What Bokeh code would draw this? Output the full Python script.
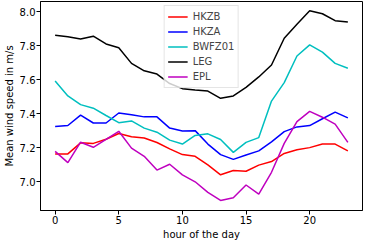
from bokeh.plotting import figure
from bokeh.models import Range1d, Legend, LegendItem, FixedTicker, PrintfTickFormatter
from bokeh.embed import file_html
from bokeh.resources import INLINE

hours = list(range(24))
HKZB = [7.164, 7.164, 7.229, 7.226, 7.250, 7.284, 7.265, 7.258, 7.231, 7.194, 7.160, 7.150,
        7.099, 7.041, 7.066, 7.062, 7.098, 7.119, 7.167, 7.188, 7.201, 7.222, 7.222, 7.182]
HKZA = [7.326, 7.331, 7.392, 7.346, 7.346, 7.405, 7.395, 7.382, 7.382, 7.316, 7.299, 7.301,
        7.222, 7.160, 7.132, 7.158, 7.182, 7.235, 7.295, 7.323, 7.331, 7.371, 7.410, 7.376]
BWFZ01 = [7.593, 7.505, 7.454, 7.433, 7.390, 7.348, 7.358, 7.316, 7.292, 7.245, 7.222, 7.273,
          7.282, 7.249, 7.173, 7.232, 7.260, 7.475, 7.584, 7.740, 7.806, 7.763, 7.697, 7.668]
LEG = [7.862, 7.853, 7.840, 7.857, 7.811, 7.789, 7.697, 7.653, 7.634, 7.578, 7.548, 7.540,
       7.534, 7.491, 7.505, 7.556, 7.617, 7.687, 7.845, 7.927, 8.006, 7.989, 7.948, 7.940]
EPL = [7.179, 7.113, 7.233, 7.203, 7.250, 7.297, 7.198, 7.150, 7.069, 7.103, 7.041, 7.000,
       6.938, 6.890, 6.906, 6.981, 6.928, 7.056, 7.226, 7.354, 7.414, 7.380, 7.339, 7.232]

series_names = ["HKZB", "HKZA", "BWFZ01", "LEG", "EPL"]
series_values = [HKZB, HKZA, BWFZ01, LEG, EPL]
colors = ["#ff0000", "#0000ff", "#00bfbf", "#000000", "#bf00bf"]
x_ticks = [0, 5, 10, 15, 20]
y_ticks = [7.0, 7.2, 7.4, 7.6, 7.8, 8.0]

FONT = "DejaVu Sans"

p = figure(width=366, height=242, output_backend="svg", toolbar_location=None,
           x_range=Range1d(-1.15, 24.15), y_range=Range1d(6.831, 8.061),
           min_border_top=1, min_border_right=4, min_border_left=2, min_border_bottom=2)
p.background_fill_color = "white"
p.border_fill_color = "white"
p.outline_line_color = "black"
p.outline_line_width = 1
p.xgrid.visible = False
p.ygrid.visible = False

items = []
for name, vals, col in zip(series_names, series_values, colors):
    r = p.line(hours, vals, line_color=col, line_width=1.5)
    items.append(LegendItem(label=name, renderers=[r]))

for ax in (p.xaxis[0], p.yaxis[0]):
    ax.major_tick_in = 0
    ax.major_tick_out = 4
    ax.minor_tick_line_color = None
    ax.axis_line_color = "black"
    ax.major_tick_line_color = "black"
    ax.major_label_text_font = FONT
    ax.major_label_text_font_size = "10px"
    ax.major_label_text_color = "black"
    ax.axis_label_text_font = FONT
    ax.axis_label_text_font_size = "10px"
    ax.axis_label_text_font_style = "normal"
    ax.axis_label_text_color = "black"
    ax.major_label_standoff = 1
    ax.axis_label_standoff = 2

p.xaxis.ticker = FixedTicker(ticks=x_ticks)
p.yaxis.ticker = FixedTicker(ticks=y_ticks)
p.yaxis.formatter = PrintfTickFormatter(format="%.1f")
p.xaxis.axis_label = "hour of the day"
p.yaxis.axis_label = "Mean wind speed in m/s"

legend = Legend(items=items, location="top_center")
legend.label_text_font = FONT
legend.label_text_font_size = "10px"
legend.label_height = 15
legend.glyph_height = 15
legend.glyph_width = 20
legend.spacing = 0
legend.padding = 3
legend.margin = 4
legend.border_line_color = "#cccccc"
legend.border_line_width = 1
legend.background_fill_alpha = 0.8
p.add_layout(legend)

open("out.html", "w").write(file_html(p, INLINE))
